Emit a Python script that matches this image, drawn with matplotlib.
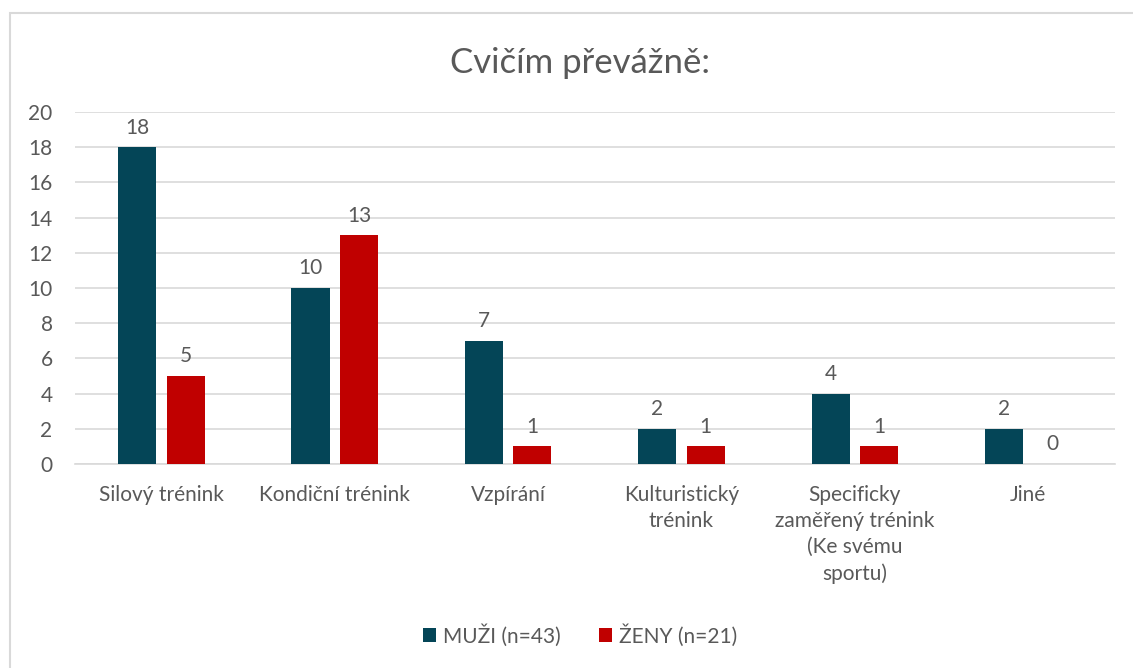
import numpy as np
import matplotlib.pyplot as plt
from matplotlib.patches import Rectangle

kategorie = ["Silový trénink", "Kondiční trénink", "Vzpírání",
             "Kulturistický\ntrénink",
             "Specificky\nzaměřený trénink\n(Ke svému\nsportu)", "Jiné"]
muzi = [18, 10, 7, 2, 4, 2]
zeny = [5, 13, 1, 1, 1, 0]

plt.rcParams['font.family'] = ['Lato', 'DejaVu Sans']
seda = '#595959'

fig = plt.figure(figsize=(11.33, 6.68), dpi=100)
ax = fig.add_axes([0.066, 0.3054, 0.918, 0.5269])

x = np.arange(len(kategorie))
w = 0.22
b1 = ax.bar(x - 0.14, muzi, w, color='#044557', label='MUŽI (n=43)', zorder=3)
b2 = ax.bar(x + 0.14, zeny, w, color='#C00000', label='ŽENY (n=21)', zorder=3)

# popisky hodnot nad sloupci
for bars in (b1, b2):
    for r in bars:
        ax.text(r.get_x() + r.get_width() / 2, r.get_height() + 0.55,
                str(int(r.get_height())), ha='center', va='bottom',
                fontsize=15, color=seda)

ax.set_xlim(-0.5, 5.5)
ax.set_ylim(0, 20)
ax.set_yticks(range(0, 21, 2))
ax.set_xticks(x)
ax.set_xticklabels(kategorie, fontsize=15, color=seda, va='top', linespacing=1.38)
ax.tick_params(axis='y', labelsize=15, colors=seda, length=0, pad=16)
ax.tick_params(axis='x', length=0, pad=15)
ax.grid(axis='y', color='#D9D9D9', linewidth=1.2, zorder=0)
for s in ['top', 'right', 'left']:
    ax.spines[s].set_visible(False)
ax.spines['bottom'].set_color('#D9D9D9')
ax.spines['bottom'].set_linewidth(1.2)

fig.text(0.512, 0.906, 'Cvičím převážně:', ha='center', va='center',
         fontsize=25, color=seda)

fig.legend(loc='center', bbox_to_anchor=(0.512, 0.049), ncol=2, frameon=False,
           fontsize=15, labelcolor=seda, handlelength=0.65, handleheight=0.65,
           handletextpad=0.35, columnspacing=1.8)

# šedý rámeček kolem grafu
fig.patches.append(Rectangle((10 / 1133, -0.1), 1.2, 1.1 - 13 / 668,
                             transform=fig.transFigure, fill=False,
                             edgecolor='#D9D9D9', linewidth=1.5))

fig.savefig('out.png', dpi=100)
